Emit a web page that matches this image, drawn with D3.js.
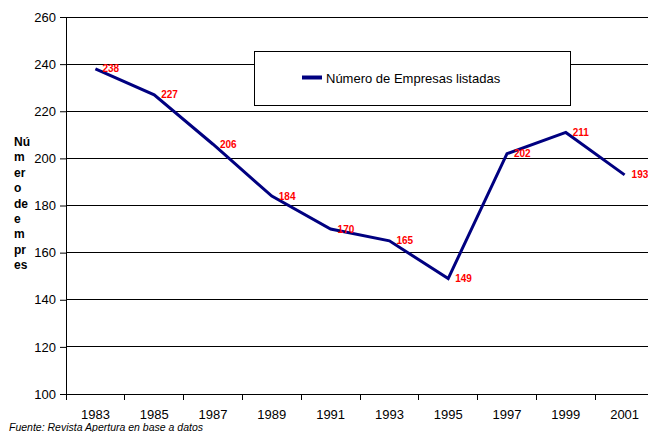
<!DOCTYPE html>
<html><head><meta charset="utf-8">
<script src="https://cdn.jsdelivr.net/npm/d3@7"></script>
<style>body{margin:0;background:#fff}svg{display:block;font-family:Arial,"Liberation Sans",sans-serif}</style>
</head><body>
<svg id="c" width="648" height="432"></svg>
<script>
const years = ["1983","1985","1987","1989","1991","1993","1995","1997","1999","2001"];
const empresas = [238, 227, 206, 184, 170, 165, 149, 202, 211, 193];
const yTicks = [100,120,140,160,180,200,220,240,260];
const seriesName = "Número de Empresas listadas";
const yTitleLines = ["Nú","m","er","o","de","e","m","pr","es"];
const source = "Fuente: Revista Apertura en base a datos";

const FF = "Arial,'Liberation Sans',sans-serif";
const svg = d3.select("#c");
const L = 66, R = 654, T = 17, B = 394;
const x = d3.scaleBand().domain(years).range([L, R]);
const y = d3.scaleLinear().domain([100, 260]).range([B, T]);

// gridlines
svg.append("g").selectAll("line").data(yTicks.slice(1)).join("line")
  .attr("x1", L).attr("x2", 648).attr("y1", d => y(d)).attr("y2", d => y(d))
  .attr("stroke", "#000").attr("stroke-width", 1).attr("shape-rendering","crispEdges");

// y axis
const ya = svg.append("g").attr("transform", `translate(${L},0)`)
  .call(d3.axisLeft(y).tickValues(yTicks).tickSize(6).tickPadding(4).tickSizeOuter(0));
ya.select(".domain").attr("stroke","#000");
ya.selectAll("line").attr("stroke","#000");
ya.selectAll("text").attr("font-size", 13).attr("fill","#000").attr("font-family", FF);

// x axis
const xa = svg.append("g").attr("transform", `translate(0,${B})`)
  .call(d3.axisBottom(x).tickSize(0).tickPadding(15.5).tickSizeOuter(0));
xa.select(".domain").remove();
xa.selectAll("text").attr("font-size", 13).attr("fill","#000").attr("font-family", FF);
svg.append("line").attr("x1", L).attr("x2", 648).attr("y1", B).attr("y2", B).attr("stroke","#000").attr("shape-rendering","crispEdges");
svg.append("g").selectAll("line").data(years).join("line")
  .attr("x1", d => x(d)).attr("x2", d => x(d)).attr("y1", B).attr("y2", B + 6)
  .attr("stroke","#000").attr("shape-rendering","crispEdges");

// line
const line = d3.line().x((d,i) => x(years[i]) + x.bandwidth()/2).y(d => y(d));
svg.append("path").datum(empresas).attr("d", line)
  .attr("fill","none").attr("stroke","#000080").attr("stroke-width",3).attr("stroke-linejoin","miter");

// data labels
svg.append("g").selectAll("text").data(empresas).join("text")
  .attr("x", (d,i) => x(years[i]) + x.bandwidth()/2 + 7)
  .attr("y", d => y(d) + 3.5)
  .attr("font-size", 10).attr("font-weight","bold").attr("fill","#ff0000")
  .text(d => d);

// legend
const lg = svg.append("g");
lg.append("rect").attr("x", 254.5).attr("y", 51.5).attr("width", 316).attr("height", 54)
  .attr("fill","#fff").attr("stroke","#000");
lg.append("line").attr("x1", 302).attr("x2", 322).attr("y1", 77.5).attr("y2", 77.5)
  .attr("stroke","#000080").attr("stroke-width",4);
lg.append("text").attr("x", 326).attr("y", 83).attr("font-size", 13).attr("fill","#000").text(seriesName);

// y title
svg.append("g").selectAll("text").data(yTitleLines).join("text")
  .attr("x", 14).attr("y", (d,i) => 146 + i*15.4)
  .attr("font-size", 12).attr("font-weight","bold").attr("fill","#000").text(d => d);

// source
svg.append("text").attr("x", 9).attr("y", 430.5).attr("font-size", 10.5)
  .attr("font-style","italic").attr("fill","#000").text(source);
</script>
</body></html>
